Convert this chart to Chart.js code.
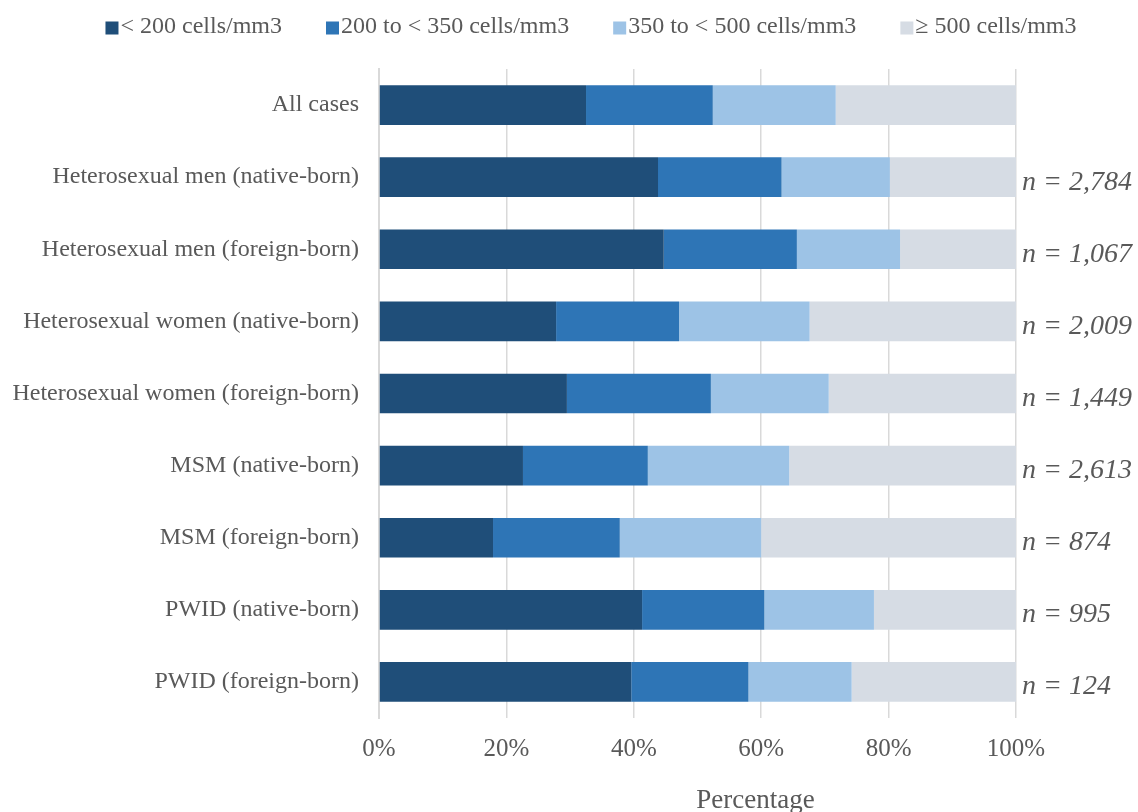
<!DOCTYPE html>
<html>
<head>
<meta charset="utf-8">
<title>CD4 count at diagnosis by transmission group</title>
<script src="https://cdn.jsdelivr.net/npm/chart.js@4.4.1/dist/chart.umd.min.js"></script>
<style>
  html, body { margin: 0; padding: 0; background: #fff; }
  #wrap { width: 1138px; height: 812px; }
</style>
</head>
<body>
<div id="wrap"><canvas id="cd4Chart" width="1138" height="812"></canvas></div>
<script>
// categories (top to bottom)
const groups = [
    'All cases',
    'Heterosexual men (native-born)',
    'Heterosexual men (foreign-born)',
    'Heterosexual women (native-born)',
    'Heterosexual women (foreign-born)',
    'MSM (native-born)',
    'MSM (foreign-born)',
    'PWID (native-born)',
    'PWID (foreign-born)'
];

// share of cases per CD4 band, in %
const below200 = [32.5, 43.8, 44.7, 27.8, 29.5, 22.6, 17.9, 41.3, 39.6];
const from200to350 = [19.9, 19.4, 20.9, 19.3, 22.6, 19.6, 19.9, 19.2, 18.4];
const from350to500 = [19.3, 17.0, 16.2, 20.5, 18.5, 22.2, 22.2, 17.2, 16.2];
const above500 = [28.3, 19.8, 18.2, 32.4, 29.4, 35.6, 40.0, 22.3, 25.8];

const seriesNames = ['< 200 cells/mm3', '200 to < 350 cells/mm3', '350 to < 500 cells/mm3', '\u2265 500 cells/mm3'];
const seriesColors = ['#1F4E79', '#2E75B6', '#9DC3E6', '#D6DCE4'];

// n per group (blank for "All cases")
const groupSizes = ['', 'n = 2,784', 'n = 1,067', 'n = 2,009', 'n = 1,449', 'n = 2,613', 'n = 874', 'n = 995', 'n = 124'];

const xTicks = [0, 20, 40, 60, 80, 100];

const SERIF = '"Liberation Serif", "Times New Roman", serif';
const GREY_TEXT = '#595959';

// legend row across the top (drawn by hand so it can sit off-centre like the original)
const topLegend = {
    id: 'topLegend',
    afterDraw(chart) {
        const { ctx } = chart;
        const box = 13, textGap = 2, itemGap = 44;
        ctx.save();
        ctx.font = '24px ' + SERIF;
        ctx.textBaseline = 'middle';
        ctx.textAlign = 'left';
        const items = chart.data.datasets.map(ds => ({
            label: ds.label,
            color: ds.backgroundColor,
            w: box + textGap + ctx.measureText(ds.label).width
        }));
        const total = items.reduce((s, it) => s + it.w, 0) + itemGap * (items.length - 1);
        let x = 591 - total / 2;
        const y = 27;
        items.forEach(it => {
            ctx.fillStyle = it.color;
            ctx.fillRect(x, y - box / 2 + 1, box, box);
            ctx.fillStyle = GREY_TEXT;
            ctx.fillText(it.label, x + box + textGap, y);
            x += it.w + itemGap;
        });
        ctx.restore();
    }
};

// "n = ..." labels to the right of each bar
const sizeLabels = {
    id: 'sizeLabels',
    afterDatasetsDraw(chart) {
        const { ctx, chartArea, scales } = chart;
        ctx.save();
        ctx.font = 'italic 28px ' + SERIF;
        ctx.fillStyle = GREY_TEXT;
        ctx.textAlign = 'left';
        ctx.textBaseline = 'middle';
        groupSizes.forEach((txt, i) => {
            if (!txt) return;
            const y = scales.y.getPixelForValue(i);
            ctx.fillText(txt, chartArea.right + 6, y + 5);
        });
        ctx.restore();
    }
};

// axis title, centred under plot + n column like the original
const axisTitle = {
    id: 'axisTitle',
    afterDraw(chart) {
        const { ctx, chartArea } = chart;
        ctx.save();
        ctx.font = '27px ' + SERIF;
        ctx.fillStyle = GREY_TEXT;
        ctx.textAlign = 'center';
        ctx.textBaseline = 'middle';
        ctx.fillText('Percentage', (chartArea.left + chart.width) / 2 - 3, chartArea.bottom + 83);
        ctx.restore();
    }
};

const datasets = [below200, from200to350, from350to500, above500].map((vals, i) => ({
    label: seriesNames[i],
    data: vals,
    backgroundColor: seriesColors[i],
    borderWidth: 0,
    barPercentage: 0.55,
    categoryPercentage: 1.0
}));

new Chart(document.getElementById('cd4Chart'), {
    type: 'bar',
    data: { labels: groups, datasets: datasets },
    options: {
        indexAxis: 'y',
        responsive: false,
        animation: false,
        layout: { padding: { top: 69, right: 122, bottom: 0, left: 0 } },
        plugins: {
            legend: { display: false },
            tooltip: { enabled: false }
        },
        scales: {
            x: {
                stacked: true,
                min: 0,
                max: 100,
                afterBuildTicks(scale) {
                    scale.ticks = xTicks.map(v => ({ value: v }));
                },
                afterFit(scale) { scale.height = 94; },
                grid: { color: '#D9D9D9', lineWidth: 1.5, drawTicks: false },
                border: { display: false },
                ticks: {
                    padding: 16,
                    color: GREY_TEXT,
                    font: { family: SERIF, size: 25 },
                    callback: v => v + '%'
                }
            },
            y: {
                stacked: true,
                afterFit(scale) { scale.width = 379; },
                grid: { display: false, drawTicks: false },
                border: { display: true, color: '#D9D9D9', width: 2 },
                ticks: {
                    padding: 20,
                    color: GREY_TEXT,
                    font: { family: SERIF, size: 24 }
                }
            }
        }
    },
    plugins: [topLegend, sizeLabels, axisTitle]
});
</script>
</body>
</html>
